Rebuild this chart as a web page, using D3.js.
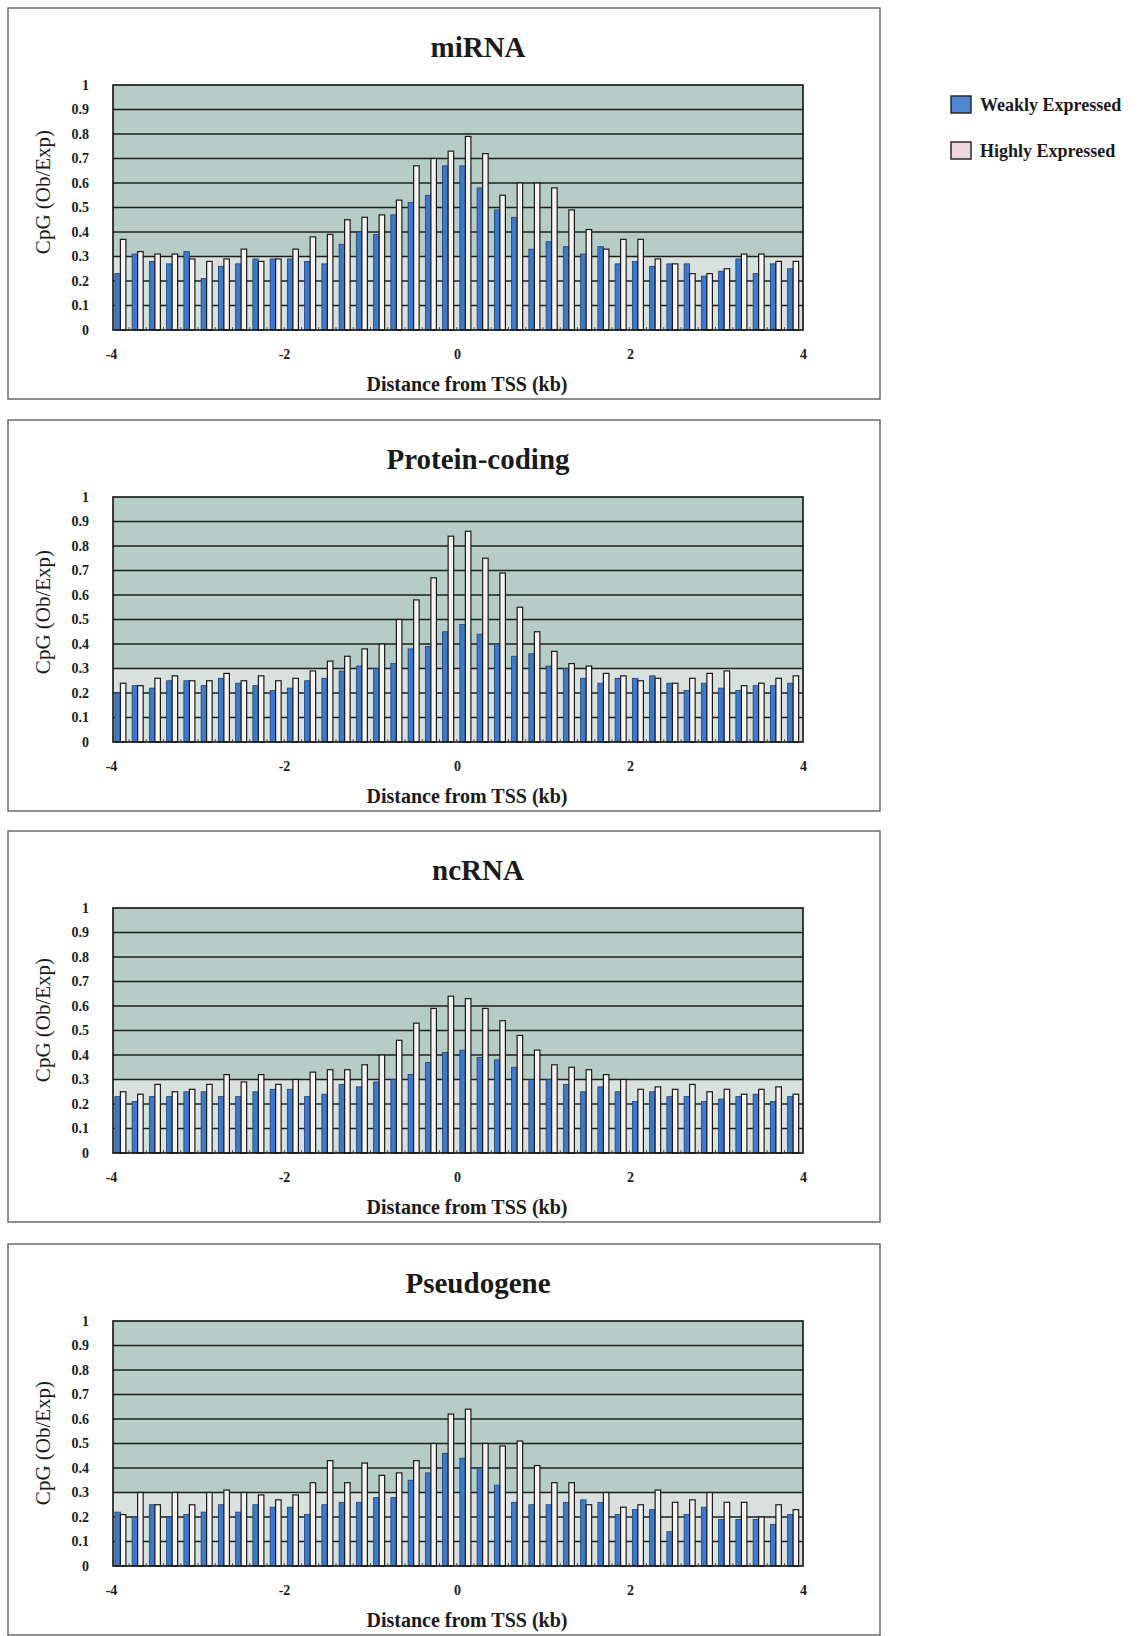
<!DOCTYPE html>
<meta charset="utf-8">
<style>
body { margin: 0; background: #fff; }
text { font-family: "Liberation Serif", "Times New Roman", serif; fill: #1a1a1a; }
.title { font-size: 29px; font-weight: bold; }
.ylabel { font-size: 21px; }
.xlabel { font-size: 20px; font-weight: bold; }
.tick text { font-size: 14px; font-weight: bold; }
.legend text { font-size: 18px; font-weight: bold; }
.grid line { stroke: #1e1e1e; stroke-width: 1.5px; }
</style>
<body>
<script src="https://d3js.org/d3.v7.min.js"></script>
<script>

// 200 bp bins, start of each bin (kb)
var binStart = [-4.0,-3.8,-3.6,-3.4,-3.2,-3.0,-2.8,-2.6,-2.4,-2.2,
                -2.0,-1.8,-1.6,-1.4,-1.2,-1.0,-0.8,-0.6,-0.4,-0.2,
                 0.0, 0.2, 0.4, 0.6, 0.8, 1.0, 1.2, 1.4, 1.6, 1.8,
                 2.0, 2.2, 2.4, 2.6, 2.8, 3.0, 3.2, 3.4, 3.6, 3.8];

var seriesNames = ["Weakly Expressed", "Highly Expressed"];
var xTicks = [-4, -2, 0, 2, 4];

var mirnaWeak = [0.23,0.31,0.28,0.27,0.32,0.21,0.26,0.27,0.29,0.29,0.29,0.28,0.27,0.35,0.40,0.39,0.47,0.52,0.55,0.67,
                 0.67,0.58,0.49,0.46,0.33,0.36,0.34,0.31,0.34,0.27,0.28,0.26,0.27,0.27,0.22,0.24,0.29,0.23,0.27,0.25];
var mirnaHigh = [0.37,0.32,0.31,0.31,0.29,0.28,0.29,0.33,0.28,0.29,0.33,0.38,0.39,0.45,0.46,0.47,0.53,0.67,0.70,0.73,
                 0.79,0.72,0.55,0.60,0.60,0.58,0.49,0.41,0.33,0.37,0.37,0.29,0.27,0.23,0.23,0.25,0.31,0.31,0.28,0.28];

var proteinWeak = [0.20,0.23,0.22,0.25,0.25,0.23,0.26,0.24,0.23,0.21,0.22,0.25,0.26,0.29,0.31,0.30,0.32,0.38,0.39,0.45,
                   0.48,0.44,0.40,0.35,0.36,0.31,0.30,0.26,0.24,0.26,0.26,0.27,0.24,0.21,0.24,0.22,0.21,0.23,0.23,0.24];
var proteinHigh = [0.24,0.23,0.26,0.27,0.25,0.25,0.28,0.25,0.27,0.25,0.26,0.29,0.33,0.35,0.38,0.40,0.50,0.58,0.67,0.84,
                   0.86,0.75,0.69,0.55,0.45,0.37,0.32,0.31,0.28,0.27,0.25,0.26,0.24,0.26,0.28,0.29,0.23,0.24,0.26,0.27];

var ncrnaWeak = [0.23,0.21,0.23,0.23,0.25,0.25,0.23,0.23,0.25,0.26,0.26,0.23,0.24,0.28,0.27,0.29,0.30,0.32,0.37,0.41,
                 0.42,0.39,0.38,0.35,0.30,0.30,0.28,0.25,0.27,0.25,0.21,0.25,0.23,0.23,0.21,0.22,0.23,0.24,0.21,0.23];
var ncrnaHigh = [0.25,0.24,0.28,0.25,0.26,0.28,0.32,0.29,0.32,0.28,0.30,0.33,0.34,0.34,0.36,0.40,0.46,0.53,0.59,0.64,
                 0.63,0.59,0.54,0.48,0.42,0.36,0.35,0.34,0.32,0.30,0.26,0.27,0.26,0.28,0.25,0.26,0.24,0.26,0.27,0.24];

var pseudoWeak = [0.22,0.20,0.25,0.20,0.21,0.22,0.25,0.22,0.25,0.24,0.24,0.21,0.25,0.26,0.26,0.28,0.28,0.35,0.38,0.46,
                  0.44,0.40,0.33,0.26,0.25,0.25,0.26,0.27,0.26,0.21,0.23,0.23,0.14,0.21,0.24,0.19,0.19,0.19,0.17,0.21];
var pseudoHigh = [0.21,0.30,0.25,0.30,0.25,0.30,0.31,0.30,0.29,0.27,0.29,0.34,0.43,0.34,0.42,0.37,0.38,0.43,0.50,0.62,
                  0.64,0.50,0.49,0.51,0.41,0.34,0.34,0.25,0.30,0.24,0.25,0.31,0.26,0.27,0.30,0.26,0.26,0.20,0.25,0.23];

var panels = [
  { name: "miRNA",          weak: mirnaWeak,   high: mirnaHigh,   top: 85,   labelOff: 107 },
  { name: "Protein-coding", weak: proteinWeak, high: proteinHigh, top: 497,  labelOff: 115 },
  { name: "ncRNA",          weak: ncrnaWeak,   high: ncrnaHigh,   top: 908,  labelOff: 112 },
  { name: "Pseudogene",     weak: pseudoWeak,  high: pseudoHigh,  top: 1321, labelOff: 122 }
];

var width = 1147, height = 1636,
    plotLeft = 113, plotRight = 803, plotH = 245;

var colors = { weak: "#3c79cc", weakEdge: "#1c3f73", high: "#f6f3f1", highEdge: "#1a1a1a" };

// plain hyphen for negatives, like the original
var fmtX = function(d) { return d < 0 ? "-" + Math.abs(d) : String(d); };

var svg = d3.select("body").append("svg")
    .attr("width", width)
    .attr("height", height);

var x = d3.scaleBand()
    .domain(binStart)
    .range([plotLeft, plotRight])
    .paddingInner(0.36)
    .paddingOuter(0.18)
    .align(0.3);

var xSub = d3.scaleBand()
    .domain(["weak", "high"])
    .range([0, x.bandwidth()]);

var xLin = d3.scaleLinear().domain([-4, 4]).range([plotLeft - 2, plotRight]);

panels.forEach(function(p) {
  var g = svg.append("g");
  var bottom = p.top + plotH;

  var y = d3.scaleLinear().domain([0, 1]).range([bottom, p.top]);

  // outer frame of the panel
  g.append("rect")
      .attr("x", 8).attr("y", p.top - 77)
      .attr("width", 872).attr("height", 391)
      .attr("fill", "none")
      .attr("stroke", "#6a6a6a")
      .attr("stroke-width", 1.5);

  g.append("text")
      .attr("class", "title")
      .attr("x", 478).attr("y", p.top - 28)
      .attr("text-anchor", "middle")
      .text(p.name);

  // plot background: lighter floor band, teal above
  g.append("rect")
      .attr("x", plotLeft).attr("y", y(1))
      .attr("width", plotRight - plotLeft).attr("height", y(0.3) - y(1))
      .attr("fill", "#b6cdc7");
  g.append("rect")
      .attr("x", plotLeft).attr("y", y(0.3))
      .attr("width", plotRight - plotLeft).attr("height", y(0) - y(0.3))
      .attr("fill", "#d9e1de");

  // gridlines
  g.append("g")
      .attr("class", "grid")
    .selectAll("line")
    .data(y.ticks(10).filter(function(d) { return d > 0 && d < 1; }))
    .enter().append("line")
      .attr("x1", plotLeft).attr("x2", plotRight)
      .attr("y1", function(d) { return y(d); })
      .attr("y2", function(d) { return y(d); });

  // bars
  var groups = g.append("g")
    .selectAll("g")
    .data(binStart.map(function(b, i) { return { bin: b, weak: p.weak[i], high: p.high[i] }; }))
    .enter().append("g")
      .attr("transform", function(d) { return "translate(" + x(d.bin) + ",0)"; });

  groups.append("rect")
      .attr("x", xSub("weak"))
      .attr("y", function(d) { return y(d.weak); })
      .attr("width", xSub.bandwidth())
      .attr("height", function(d) { return y(0) - y(d.weak); })
      .attr("fill", colors.weak)
      .attr("stroke", colors.weakEdge)
      .attr("stroke-width", 0.8);

  groups.append("rect")
      .attr("x", xSub("high"))
      .attr("y", function(d) { return y(d.high); })
      .attr("width", xSub.bandwidth())
      .attr("height", function(d) { return y(0) - y(d.high); })
      .attr("fill", colors.high)
      .attr("stroke", colors.highEdge)
      .attr("stroke-width", 1.2);

  // small category ticks on the floor
  g.append("g")
    .selectAll("line")
    .data(binStart.slice(1))
    .enter().append("line")
      .attr("x1", function(d) { return x(d) - x.step() * x.paddingInner() / 2; })
      .attr("x2", function(d) { return x(d) - x.step() * x.paddingInner() / 2; })
      .attr("y1", bottom).attr("y2", bottom - 3)
      .attr("stroke", "#555");

  // plot border
  g.append("rect")
      .attr("x", plotLeft).attr("y", p.top)
      .attr("width", plotRight - plotLeft).attr("height", plotH)
      .attr("fill", "none")
      .attr("stroke", "#111")
      .attr("stroke-width", 1.6);

  // y axis
  g.append("g")
      .attr("transform", "translate(" + plotLeft + ",0)")
      .call(d3.axisLeft(y).ticks(10).tickFormat(d3.format("~g")).tickSize(0).tickPadding(24))
      .call(function(a) { a.select(".domain").remove(); })
      .selectAll("text").attr("fill", "#1a1a1a");

  // x axis
  g.append("g")
      .attr("transform", "translate(0," + bottom + ")")
      .call(d3.axisBottom(xLin).tickValues(xTicks).tickFormat(fmtX).tickSize(0).tickPadding(19))
      .call(function(a) { a.select(".domain").remove(); })
      .selectAll("text").attr("fill", "#1a1a1a");

  g.append("text")
      .attr("class", "xlabel")
      .attr("x", 467).attr("y", bottom + 61)
      .attr("text-anchor", "middle")
      .text("Distance from TSS (kb)");

  g.append("text")
      .attr("class", "ylabel")
      .attr("transform", "translate(50," + (p.top + p.labelOff) + ") rotate(-90)")
      .attr("text-anchor", "middle")
      .text("CpG (Ob/Exp)");
});

// legend
var legend = svg.append("g")
    .attr("class", "legend")
  .selectAll("g")
  .data(seriesNames)
  .enter().append("g")
    .attr("transform", function(d, i) { return "translate(951," + (96 + i * 46) + ")"; });

legend.append("rect")
    .attr("width", 20).attr("height", 17)
    .attr("fill", function(d, i) { return i === 0 ? "#4f86d4" : "#efd6dc"; })
    .attr("stroke", "#2a2a2a")
    .attr("stroke-width", 1.5);

legend.append("text")
    .attr("x", 29).attr("y", 15)
    .text(function(d) { return d; });

</script>
